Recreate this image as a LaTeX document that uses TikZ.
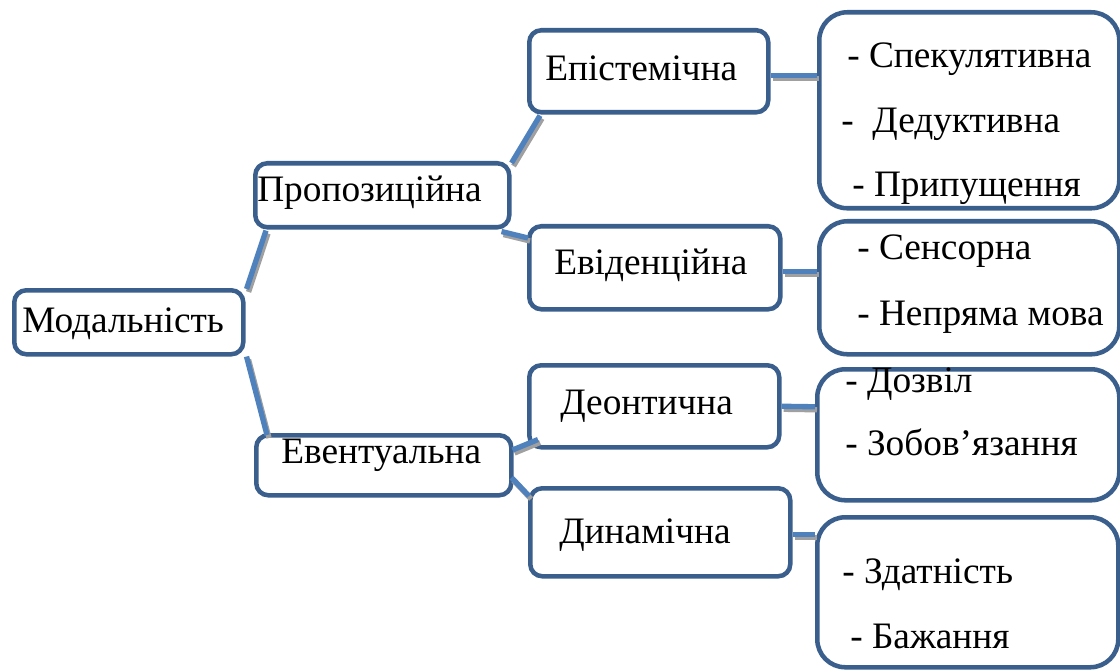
\documentclass[tikz,border=0pt]{standalone}
\usepackage{fontspec}
\usetikzlibrary{calc}
\setmainfont{Liberation Serif}
\definecolor{boxline}{RGB}{58,95,141}
\definecolor{linkblue}{RGB}{79,129,189}
\definecolor{linkshade}{RGB}{160,160,160}
\tikzset{
  box/.style={draw=boxline, line width=3.4pt, fill=white, rounded corners=9pt,
    anchor=north west, inner sep=0pt},
  bigbox/.style={box, rounded corners=21pt},
  lbl/.style={anchor=base west, inner sep=0pt, font=\fontsize{28}{33}\selectfont},
  link/.style={draw=linkblue, line width=4pt},
  linkshadow/.style={draw=linkshade, line width=4pt},
}
% a connector with its grey drop shadow: offset and anchor at each end
\newcommand{\linkpair}[4]{%
  \draw[linkshadow] ($(#2)+(#1)+(2,3)$) -- ($(#4)+(#3)+(2,3)$);
  \draw[link] ($(#2)+(#1)$) -- ($(#4)+(#3)$);}
% a box given by its left, top, right and bottom edges
\newcommand{\boxat}[6]{%
  \node[#1, minimum width={(#5-#3)*0.75pt}, minimum height={(#6-#4)*0.75pt}]
    (#2) at (#3,#4) {};}
\begin{document}
\begin{tikzpicture}[x=0.75pt,y=-0.75pt]
\useasboundingbox (0,0) rectangle (1120,670);

% boxes
\boxat{box}{mod}{12}{288}{241}{352}
\boxat{box}{prop}{253}{161}{507}{225}
\boxat{box}{event}{254}{433}{509}{493}
\boxat{box}{epist}{527}{28}{766}{110}
\boxat{box}{evid}{527}{224}{778}{307}
\boxat{box}{deon}{527}{363}{777}{445}
\boxat{box}{dyn}{528}{486}{788}{574}
\boxat{bigbox}{epl}{817}{10}{1117}{206}
\boxat{bigbox}{evl}{817}{219}{1117}{352}
\boxat{bigbox}{del}{815}{367}{1117}{498}
\boxat{bigbox}{dyl}{815}{515}{1116}{665}

% connectors
\linkpair{1,1}{mod.north east}{13,1}{prop.south west}
\linkpair{1,0}{mod.south east}{13,2}{event.north west}
\linkpair{0,2}{prop.north east}{13,1}{epist.south west}
\linkpair{-10,2}{prop.south east}{1,14}{evid.north west}
\linkpair{-1,17}{event.north east}{11,-10}{deon.south west}
\linkpair{-2,-20}{event.south east}{1,10}{dyn.north west}
\linkpair{0,4}{epist.east}{0,-35}{epl.west}
\linkpair{0,4}{evid.east}{0,-16}{evl.west}
\linkpair{0,0}{deon.east}{0,-28}{del.west}
\linkpair{0,2}{dyn.east}{0,-58}{dyl.west}

% labels
\node[lbl] (tmod) at (22,332) {Модальність};
\node[lbl] (tprop) at (257,202) {Пропозиційна};
\node[lbl] (tevent) at (281,463) {Евентуальна};
\node[lbl] (tepist) at (545,81) {Епістемічна};
\node[lbl] (tevid) at (554,275) {Евіденційна};
\node[lbl] (tdeon) at (560,414) {Деонтична};
\node[lbl] (tdyn) at (559,543) {Динамічна};
\node[lbl] (t1) at (847,68) {- Спекулятивна};
\node[lbl] (t2) at (841,133) {-\ \ Дедуктивна};
\node[lbl] (t3) at (852,197) {- Припущення};
\node[lbl] (t4) at (857,260) {- Сенсорна};
\node[lbl] (t5) at (857,325) {- Непряма мова};
\node[lbl] (t6) at (845,392) {- Дозвіл};
\node[lbl] (t7) at (845,455) {- Зобов’язання};
\node[lbl] (t8) at (842,583) {- Здатність};
\node[lbl] (t9) at (850,648) {- Бажання};
\end{tikzpicture}
\end{document}
